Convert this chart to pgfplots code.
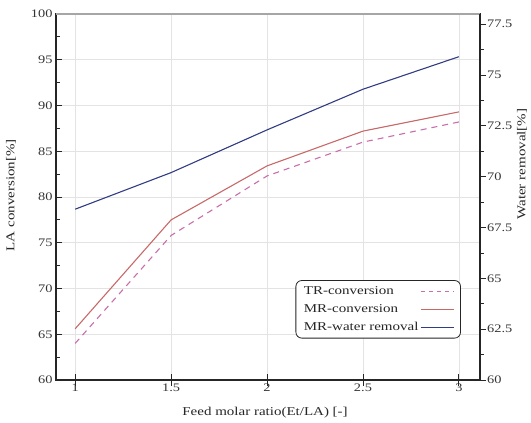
\documentclass[border=0pt]{standalone}
\usepackage{pgfplots}
\pgfplotsset{compat=1.18}
\usepackage{fontspec}
\setmainfont[FakeStretch=1.25]{Liberation Serif}
\definecolor{wr}{RGB}{50,60,130}
\definecolor{mr}{RGB}{200,105,105}
\definecolor{tr}{RGB}{200,110,170}
\pgfplotstableread{
x    tr    mr
1    64.0  65.6
1.5  75.8  77.5
2    82.3  83.4
2.5  86.0  87.2
3    88.2  89.3
}\conv
\pgfplotstableread{
x    wr
1    68.4
1.5  70.2
2    72.3
2.5  74.3
3    75.9
}\water
\begin{document}
\begin{tikzpicture}
\useasboundingbox (0,0) rectangle (531bp,423bp);
\pgfplotsset{
  common/.style={
    at={(56bp,43bp)}, anchor=south west,
    scale only axis, width=424bp, height=366bp,
    xmin=0.9, xmax=3.11,
    xtick={1,1.5,2,2.5,3},
    /pgf/number format/assume math mode=true,
    tick label style={font=\fontsize{11.5bp}{14bp}\selectfont, text=black!80},
    label style={font=\fontsize{12bp}{14bp}\selectfont, text=black!85},
    axis line style={black!85, line width=1.2bp},
    major tick length=6bp, minor tick length=3.5bp,
    every tick/.style={black!85, line width=0.8bp},
  }
}
\begin{axis}[common,
  ymin=60, ymax=100,
  ytick={60,65,...,100}, minor y tick num=1,
  xticklabels={1,1.5,2,2.5,3},
  tick align=inside, xtick pos=bottom, ytick pos=left,
  grid=major, major grid style={gray!22, line width=0.7bp},
  xlabel={Feed molar ratio(Et/LA) [-]},
  ylabel={LA conversion[\%]},
  xlabel style={at={(axis description cs:0.493,-0.09)}, anchor=center},
  ylabel style={at={(axis description cs:-0.106,0.505)}, anchor=center},
]
\addplot[tr, line width=1.1bp, dash pattern=on 6bp off 5bp] table[x=x, y=tr] {\conv};
\addplot[mr, line width=1.1bp] table[x=x, y=mr] {\conv};
\draw[gray!70, line width=1.6bp] (rel axis cs:0,1) -- (rel axis cs:1,1);
\end{axis}
\begin{axis}[common,
  ymin=60, ymax=78,
  ytick={60,62.5,...,77.5}, minor y tick num=1,
  yticklabels={60,62.5,65,67.5,70,72.5,75,77.5},
  xticklabels={},
  tick align=outside, xtick pos=bottom, ytick pos=right,
  axis x line*=bottom, axis y line*=right,
  yticklabel style={inner xsep=1bp},
  ylabel={Water removal[\%]},
  ylabel style={at={(axis description cs:1.099,0.59)}, anchor=center, rotate=0},
  legend cell align=left,
  legend plot pos=right,
  legend image code/.code={\draw[#1] (0bp,0bp) -- (33bp,0bp);},
  legend style={at={(axis description cs:0.955,0.273)}, anchor=north east,
    draw=black!85, rounded corners=6bp, line width=0.8bp,
    font=\fontsize{12bp}{14bp}\selectfont, text=black!85,
    inner xsep=6bp, inner ysep=4bp, row sep=4.5bp},
]
\addlegendimage{tr, line width=1.1bp, dash pattern=on 4bp off 4bp}
\addlegendentry{TR-conversion}
\addlegendimage{mr, line width=1.1bp}
\addlegendentry{MR-conversion}
\addplot[wr, line width=1.1bp] table[x=x, y=wr] {\water};
\addlegendentry{MR-water removal}
\end{axis}
\end{tikzpicture}
\end{document}
